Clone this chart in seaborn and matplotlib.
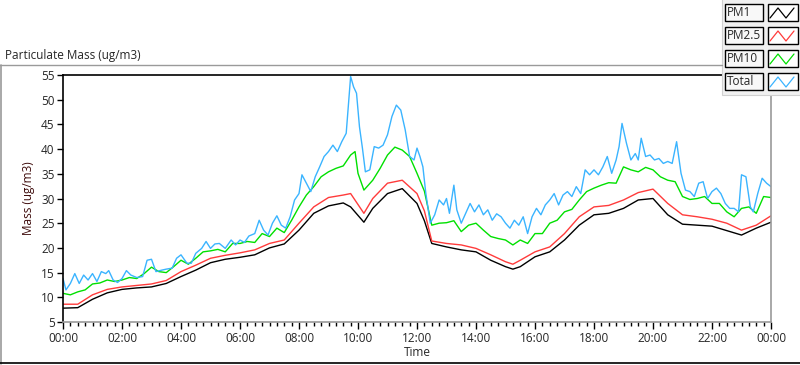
import numpy as np
import pandas as pd
import matplotlib
matplotlib.use("Agg")
import matplotlib.pyplot as plt
from matplotlib.patches import Rectangle
from matplotlib.lines import Line2D
from matplotlib.ticker import MultipleLocator, FuncFormatter
import seaborn as sns

# ---- data (hours since midnight, ug/m3) ----
t_fine = [0, 0.5, 1, 1.5, 2, 2.5, 3, 3.5, 4, 4.5, 5, 5.5, 6, 6.5, 7, 7.5, 8, 8.5, 9, 9.5,
          9.75, 10.2, 10.5, 11, 11.5, 12, 12.25, 12.5, 13, 13.5, 14, 14.5, 15, 15.25, 15.5,
          16, 16.5, 17, 17.5, 18, 18.5, 19, 19.5, 20, 20.5, 21, 21.5, 22, 22.5, 23, 23.5, 24]
pm1 = [7.8, 7.9, 9.6, 10.9, 11.6, 11.9, 12.1, 12.8, 14.2, 15.5, 17.0, 17.7, 18.1, 18.6, 20.0,
       20.8, 23.6, 27.0, 28.5, 29.1, 28.3, 25.2, 28.0, 31.0, 32.0, 29.0, 25.5, 20.9, 20.2, 19.6,
       19.2, 17.5, 16.2, 15.7, 16.2, 18.2, 19.2, 21.6, 24.6, 26.7, 27.0, 28.0, 29.7, 30.0, 26.7,
       24.8, 24.6, 24.4, 23.5, 22.6, 24.0, 25.2]
pm25 = [8.6, 8.6, 10.5, 11.6, 12.1, 12.4, 12.7, 13.4, 15.2, 16.5, 17.9, 18.5, 19.0, 19.6, 20.9,
        21.6, 25.0, 28.3, 30.2, 30.7, 31.0, 27.0, 30.0, 33.1, 33.7, 31.0, 27.5, 21.4, 20.9, 20.6,
        19.9, 18.6, 17.2, 16.7, 17.5, 19.2, 20.2, 22.9, 26.3, 28.3, 28.6, 29.7, 31.2, 31.9, 29.0,
        26.7, 26.3, 25.8, 25.0, 23.6, 24.6, 26.5]

t_pm10 = [0, 0.25, 0.5, 0.75, 1, 1.25, 1.5, 1.75, 2, 2.25, 2.5, 2.75, 3, 3.25, 3.5, 3.75, 4, 4.25,
          4.5, 4.75, 5, 5.25, 5.5, 5.75, 6, 6.25, 6.5, 6.75, 7, 7.25, 7.5, 7.75, 8, 8.25, 8.5, 8.75,
          9, 9.25, 9.5, 9.75, 9.9, 10, 10.2, 10.5, 10.75, 11, 11.25, 11.5, 11.75, 12, 12.25, 12.5,
          12.75, 13, 13.25, 13.5, 13.75, 14, 14.25, 14.5, 14.75, 15, 15.25, 15.5, 15.75, 16, 16.25,
          16.5, 16.75, 17, 17.25, 17.5, 17.75, 18, 18.25, 18.5, 18.75, 19, 19.25, 19.5, 19.75, 20,
          20.25, 20.5, 20.75, 21, 21.25, 21.5, 21.75, 22, 22.25, 22.5, 22.75, 23, 23.25, 23.5,
          23.75, 24]
pm10 = [10.8, 10.5, 11.1, 11.5, 12.7, 12.9, 13.5, 13.2, 13.5, 14.0, 13.8, 14.8, 16.1, 15.2, 15.0,
        16.2, 17.5, 16.7, 17.9, 19.2, 19.4, 19.7, 19.2, 20.9, 20.9, 21.3, 21.1, 22.9, 22.3, 24.0,
        23.1, 25.6, 28.3, 30.7, 32.4, 34.4, 35.4, 36.1, 36.6, 38.8, 39.5, 35.1, 31.7, 33.7, 36.1,
        38.8, 40.4, 39.8, 38.5, 35.1, 31.5, 24.6, 25.0, 25.1, 25.5, 23.3, 24.6, 25.0, 23.6, 22.3,
        21.9, 21.6, 20.6, 21.6, 20.9, 22.9, 22.9, 25.0, 25.6, 27.3, 27.8, 29.7, 31.4, 32.1, 32.7,
        33.2, 33.1, 36.4, 35.8, 35.4, 36.3, 35.8, 34.4, 33.7, 33.4, 30.4, 29.8, 30.0, 30.4, 29.0,
        29.0, 27.3, 26.3, 28.0, 28.3, 27.0, 30.4, 30.2]

t_total = [0, 0.1, 0.25, 0.4, 0.55, 0.7, 0.85, 1, 1.15, 1.3, 1.45, 1.55, 1.7, 1.85, 2, 2.15, 2.3,
           2.5, 2.7, 2.85, 3, 3.15, 3.35, 3.5, 3.7, 3.85, 4, 4.2, 4.35, 4.5, 4.7, 4.85, 5, 5.15,
           5.3, 5.5, 5.7, 5.85, 6, 6.15, 6.3, 6.5, 6.65, 6.8, 6.95, 7.1, 7.25, 7.4, 7.55, 7.7,
           7.85, 8, 8.1, 8.25, 8.4, 8.55, 8.7, 8.85, 9, 9.15, 9.3, 9.45, 9.6, 9.75, 9.85, 9.95,
           10.05, 10.15, 10.25, 10.4, 10.55, 10.7, 10.85, 11, 11.15, 11.3, 11.45, 11.6, 11.75,
           11.9, 12, 12.1, 12.2, 12.3, 12.45, 12.6, 12.75, 12.9, 13.0, 13.1, 13.25, 13.35, 13.5,
           13.65, 13.8, 13.95, 14.1, 14.25, 14.4, 14.55, 14.7, 14.85, 15, 15.15, 15.3, 15.45,
           15.6, 15.75, 15.9, 16.05, 16.2, 16.35, 16.5, 16.65, 16.8, 16.95, 17.1, 17.25, 17.4,
           17.55, 17.7, 17.85, 18, 18.15, 18.3, 18.45, 18.6, 18.75, 18.85, 18.95, 19.1, 19.25,
           19.4, 19.5, 19.6, 19.75, 19.9, 20.05, 20.2, 20.35, 20.5, 20.65, 20.8, 20.95, 21.1,
           21.25, 21.4, 21.55, 21.7, 21.85, 22, 22.15, 22.3, 22.45, 22.6, 22.75, 22.9, 23,
           23.15, 23.3, 23.4, 23.55, 23.7, 23.85, 24]
total = [13.8, 11.5, 12.8, 14.8, 12.8, 14.5, 13.5, 14.8, 13.2, 15.2, 14.8, 15.4, 13.5, 13.0, 13.8,
         15.4, 14.5, 14.0, 14.2, 17.5, 17.7, 15.2, 15.5, 15.7, 15.9, 17.9, 18.6, 16.9, 16.9, 18.9,
         19.9, 21.3, 19.9, 20.8, 20.9, 19.9, 21.6, 20.6, 21.6, 21.1, 22.4, 22.9, 25.6, 23.6, 22.6,
         25.0, 26.5, 24.6, 24.0, 26.3, 29.7, 31.0, 34.8, 33.1, 31.4, 34.4, 36.4, 38.5, 39.5, 40.8,
         39.5, 41.5, 43.2, 54.7, 52.6, 51.3, 44.5, 40.2, 35.4, 35.8, 40.5, 40.2, 40.8, 42.9, 46.6,
         48.9, 47.9, 43.9, 38.5, 37.8, 40.2, 38.5, 36.4, 31.0, 25.0, 26.7, 29.7, 28.7, 30.0, 27.0,
         32.7, 27.7, 25.0, 27.0, 29.0, 27.3, 28.7, 26.7, 27.7, 25.6, 26.9, 26.3, 25.0, 24.0, 25.6,
         24.6, 26.3, 22.9, 26.3, 28.0, 26.7, 28.7, 29.7, 31.0, 28.7, 30.7, 31.4, 30.4, 32.4, 31.0,
         35.8, 34.8, 35.8, 34.8, 36.4, 38.5, 35.1, 37.8, 40.5, 45.2, 41.2, 37.8, 39.1, 37.8, 42.2,
         38.5, 38.8, 37.8, 38.1, 37.1, 37.5, 37.1, 41.5, 35.1, 31.7, 31.4, 30.4, 33.1, 33.4, 30.0,
         31.4, 32.1, 31.0, 29.0, 28.0, 28.0, 27.3, 34.8, 34.4, 28.3, 27.3, 31.0, 34.1, 33.1, 32.4]

series_names = ["PM1", "PM2.5", "PM10", "Total"]
series_colors = ["#000000", "#ff3b3b", "#00e000", "#3ab4ff"]
y_ticks = list(range(5, 56, 5))
x_tick_hours = list(range(0, 25, 2))

# ---- figure ----
sns.set_style("white")
plt.rcParams["font.family"] = ["Open Sans", "DejaVu Sans"]
W, H = 800, 365
fig = plt.figure(figsize=(W / 100, H / 100), dpi=100)
fig.patch.set_facecolor("white")

def fx(px):
    return px / W

def fy(py):
    return 1 - py / H

ax = fig.add_axes([fx(63), fy(322), fx(771) - fx(63), fy(75) - fy(322)])
ax.set_facecolor("white")

frames = [
    pd.DataFrame({"t": t_fine, "v": pm1}),
    pd.DataFrame({"t": t_fine, "v": pm25}),
    pd.DataFrame({"t": t_pm10, "v": pm10}),
    pd.DataFrame({"t": t_total, "v": total}),
]
for df, c in zip(frames, series_colors):
    sns.lineplot(data=df, x="t", y="v", color=c, linewidth=1.0, ax=ax,
                 estimator=None, sort=False)

ax.set_xlim(0, 24)
ax.set_ylim(5, 55)
ax.set_yticks(y_ticks)
ax.set_xticks(x_tick_hours)
ax.xaxis.set_minor_locator(MultipleLocator(0.25))
ax.xaxis.set_major_formatter(FuncFormatter(lambda v, p: "%02d:00" % (int(round(v)) % 24)))
ax.tick_params(axis="x", which="major", direction="out", length=5, width=1, color="#000000",
               labelsize=8.5, pad=2, bottom=True)
ax.tick_params(axis="x", which="minor", direction="out", length=3, width=1, color="#000000",
               bottom=True)
ax.tick_params(axis="y", which="major", direction="out", length=4, width=1, color="#000000",
               labelsize=8.5, pad=2, left=True)
for s in ["left", "top"]:
    ax.spines[s].set_color("#000000")
    ax.spines[s].set_linewidth(1.2)
for s in ["right", "bottom"]:
    ax.spines[s].set_color("#9a9a9a")
    ax.spines[s].set_linewidth(1.2)
ax.set_xlabel("Time", fontsize=8.5, labelpad=1)
ax.set_ylabel("Mass (ug/m3)", fontsize=8.5, color="#3d0a0a", labelpad=4)
ax.grid(False)

# ---- panel decorations ----
fig.add_artist(Line2D([fx(0.5), fx(0.5)], [fy(65), fy(364)], color="#9a9a9a", lw=1.2))
fig.add_artist(Line2D([fx(0), fx(800)], [fy(363), fy(363)], color="#000000", lw=1.2))
fig.add_artist(Line2D([fx(0), fx(722)], [fy(65), fy(65)], color="#9a9a9a", lw=1.0))
fig.text(fx(5), fy(55), "Particulate Mass (ug/m3)", fontsize=8.5, ha="left", va="center")

# legend panel
fig.add_artist(Rectangle((fx(722), fy(95)), fx(80), fy(-2) - fy(95), facecolor="#f0f0f0",
                         edgecolor="#d0d0d0", lw=0.8))
row_tops = [4, 27, 50, 73]
for name, c, top in zip(series_names, series_colors, row_tops):
    fig.add_artist(Rectangle((fx(725), fy(top + 17)), fx(38), fy(top) - fy(top + 17),
                             facecolor="#f8f8f8", edgecolor="#000000", lw=1.0))
    fig.text(fx(727), fy(top + 8.5), name, fontsize=8.5, ha="left", va="center")
    fig.add_artist(Rectangle((fx(768), fy(top + 17)), fx(30), fy(top) - fy(top + 17),
                             facecolor="white", edgecolor="#000000", lw=1.0))
    zx = [770, 778, 786, 794]
    zy = [top + 14, top + 4, top + 14, top + 4]
    fig.add_artist(Line2D([fx(v) for v in zx], [fy(v) for v in zy], color=c, lw=0.9))

fig.savefig("out.png", dpi=100)
